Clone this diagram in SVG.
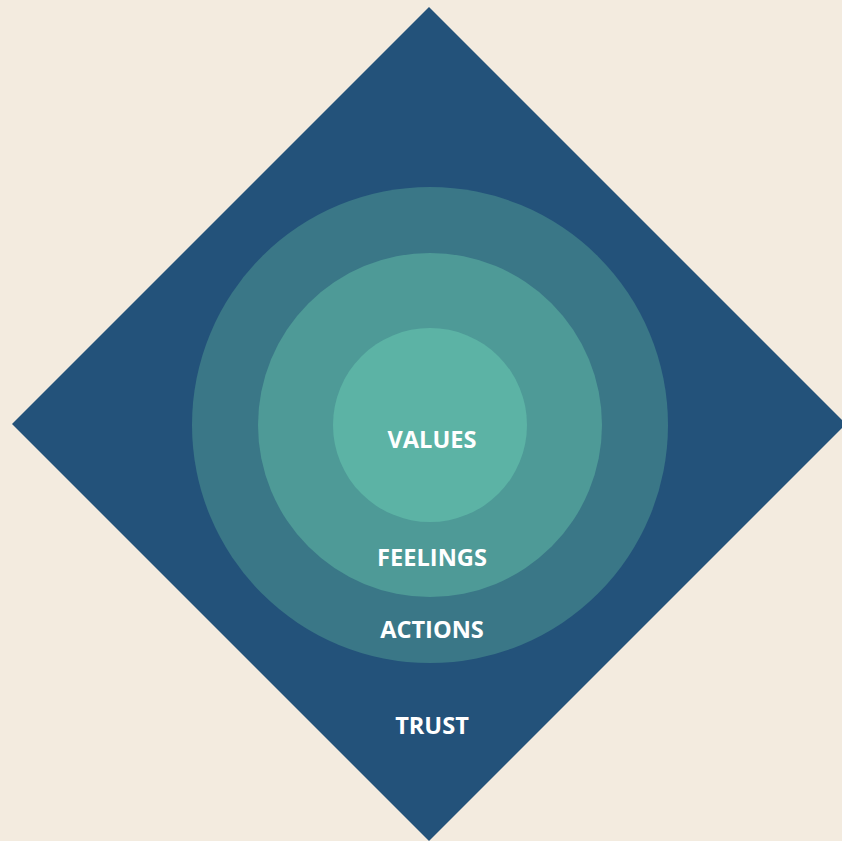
<svg xmlns="http://www.w3.org/2000/svg" width="842" height="841" viewBox="0 0 842 841">
  <style>
    .label { font-family: "Open Sans", "Liberation Sans", sans-serif; font-weight: 700; font-size: 23.6px; fill: #ffffff; text-anchor: middle; }
  </style>
  <rect width="842" height="841" fill="#F3EBDF"/>
  <g id="trust">
    <polygon points="429,7 846,424 429,841 12,424" fill="#23527A"/>
    <text class="label" x="432" y="733.5">TRUST</text>
  </g>
  <g id="actions">
    <circle cx="430" cy="425" r="238" fill="#3A7787"/>
    <text class="label" x="432" y="637.5">ACTIONS</text>
  </g>
  <g id="feelings">
    <circle cx="430" cy="425" r="172" fill="#4E9A97"/>
    <text class="label" x="432" y="565.5">FEELINGS</text>
  </g>
  <g id="values">
    <circle cx="430" cy="425" r="97" fill="#5CB3A5"/>
    <text class="label" x="432" y="447.5">VALUES</text>
  </g>
</svg>
